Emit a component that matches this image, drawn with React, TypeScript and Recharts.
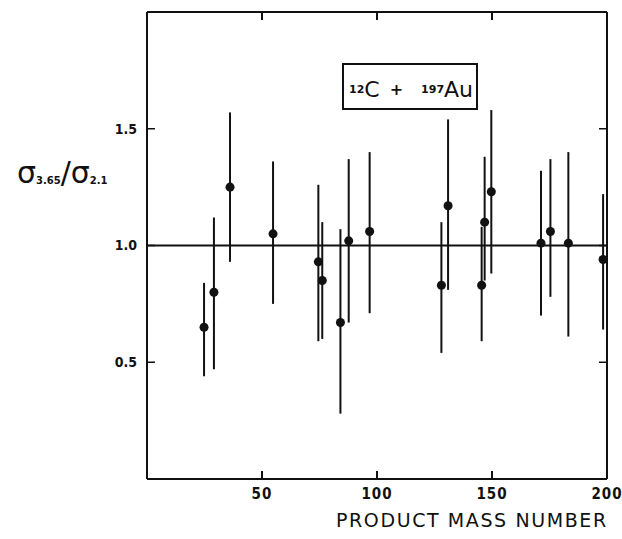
import {
  ScatterChart,
  Scatter,
  XAxis,
  YAxis,
  ZAxis,
  ErrorBar,
  ReferenceLine,
} from "recharts";

// values
const massNumbers = [24.8, 29.1, 36.1, 54.8, 74.5, 76.2, 84.1, 87.7, 96.8, 128.0, 130.9, 145.5, 146.8, 149.7, 171.3, 175.4, 183.2, 198.3];
const ratios = [0.65, 0.8, 1.25, 1.05, 0.93, 0.85, 0.67, 1.02, 1.06, 0.83, 1.17, 0.83, 1.1, 1.23, 1.01, 1.06, 1.01, 0.94];
const ratioUpper = [0.84, 1.12, 1.57, 1.36, 1.26, 1.1, 1.07, 1.37, 1.4, 1.1, 1.54, 1.08, 1.38, 1.58, 1.32, 1.37, 1.4, 1.22];
const ratioLower = [0.44, 0.47, 0.93, 0.75, 0.59, 0.6, 0.28, 0.67, 0.71, 0.54, 0.81, 0.59, 0.85, 0.88, 0.7, 0.78, 0.61, 0.64];

const xTicks = [50, 100, 150, 200];
const xInnerTicks = [50, 100, 150];
const yTicks = [0.5, 1.0, 1.5];

const tickFont = {
  fill: "#111",
  fontSize: 15,
  fontWeight: 700,
  letterSpacing: 1,
  fontFamily: "'DejaVu Sans Condensed', 'DejaVu Sans', sans-serif",
};

const NoLabel = () => <g />;

export default function App() {
  const data = massNumbers.map((m, i) => ({
    mass: m,
    ratio: ratios[i],
    err: [ratios[i] - ratioLower[i], ratioUpper[i] - ratios[i]],
  }));

  return (
    <div style={{ position: "absolute", left: 0, top: 0, width: 622, height: 539, background: "#fff" }}>
      <ScatterChart width={622} height={539} margin={{ top: 2, right: 5, bottom: 30, left: 107 }}>
        <XAxis
          type="number"
          dataKey="mass"
          domain={[0, 200]}
          ticks={xTicks}
          tick={tickFont}
          tickSize={-8}
          tickMargin={17}
          height={30}
          axisLine={{ stroke: "#111", strokeWidth: 2 }}
          tickLine={{ stroke: "#111", strokeWidth: 2 }}
        />
        <XAxis
          xAxisId="top"
          orientation="top"
          type="number"
          dataKey="mass"
          domain={[0, 200]}
          ticks={xInnerTicks}
          interval={0}
          tick={NoLabel}
          tickSize={-8}
          height={10}
          axisLine={{ stroke: "#111", strokeWidth: 2 }}
          tickLine={{ stroke: "#111", strokeWidth: 2 }}
        />
        <YAxis
          type="number"
          dataKey="ratio"
          domain={[0, 2]}
          ticks={yTicks}
          tickFormatter={(v) => Number(v).toFixed(1)}
          tick={{ ...tickFont, fontSize: 14, letterSpacing: 0 }}
          tickSize={-8}
          tickMargin={18}
          width={40}
          axisLine={{ stroke: "#111", strokeWidth: 2 }}
          tickLine={{ stroke: "#111", strokeWidth: 1.5 }}
        />
        <YAxis
          yAxisId="right"
          orientation="right"
          type="number"
          dataKey="ratio"
          domain={[0, 2]}
          ticks={yTicks}
          interval={0}
          tick={NoLabel}
          tickSize={-8}
          width={10}
          axisLine={{ stroke: "#111", strokeWidth: 2 }}
          tickLine={{ stroke: "#111", strokeWidth: 1.5 }}
        />
        <ZAxis range={[55, 55]} />
        <ReferenceLine y={1} stroke="#111" strokeWidth={2} />
        {/* same points on the top/right frame axes, drawn as nothing, so those axes get a scale */}
        <Scatter
          data={data}
          xAxisId="top"
          yAxisId="right"
          shape={() => <g />}
          legendType="none"
          isAnimationActive={false}
        />
        <Scatter data={data} fill="#111" isAnimationActive={false}>
          <ErrorBar dataKey="err" direction="y" width={0} stroke="#111" strokeWidth={2} />
        </Scatter>
      </ScatterChart>

      {/* y-axis title */}
      <div
        style={{
          position: "absolute",
          left: 17,
          top: 158,
          fontFamily: "'DejaVu Sans', sans-serif",
          fontSize: 30,
          color: "#111",
          lineHeight: 1,
          whiteSpace: "nowrap",
        }}
      >
        σ<sub style={{ fontSize: 10, fontWeight: 700, verticalAlign: -1 }}>3.65</sub>/σ
        <sub style={{ fontSize: 10, fontWeight: 700, verticalAlign: -1 }}>2.1</sub>
      </div>

      {/* reaction box */}
      <div
        style={{
          position: "absolute",
          left: 342,
          top: 63,
          width: 136,
          height: 47,
          paddingLeft: 5,
          paddingTop: 6,
          border: "2px solid #111",
          fontFamily: "'DejaVu Sans', sans-serif",
          color: "#111",
          display: "flex",
          alignItems: "center",
          fontSize: 22,
          whiteSpace: "nowrap",
          boxSizing: "border-box",
        }}
      >
        <sup style={{ fontSize: 11, fontWeight: 700 }}>12</sup>C
        <span style={{ margin: "0 18px 0 10px", fontSize: 16, fontWeight: 700 }}>+</span>
        <sup style={{ fontSize: 11, fontWeight: 700 }}>197</sup>Au
      </div>

      {/* x-axis title */}
      <div
        style={{
          position: "absolute",
          left: 336,
          top: 509,
          fontFamily: "'DejaVu Sans', sans-serif",
          fontSize: 19,
          letterSpacing: 1.6,
          color: "#111",
          whiteSpace: "nowrap",
        }}
      >
        PRODUCT MASS NUMBER
      </div>
    </div>
  );
}
